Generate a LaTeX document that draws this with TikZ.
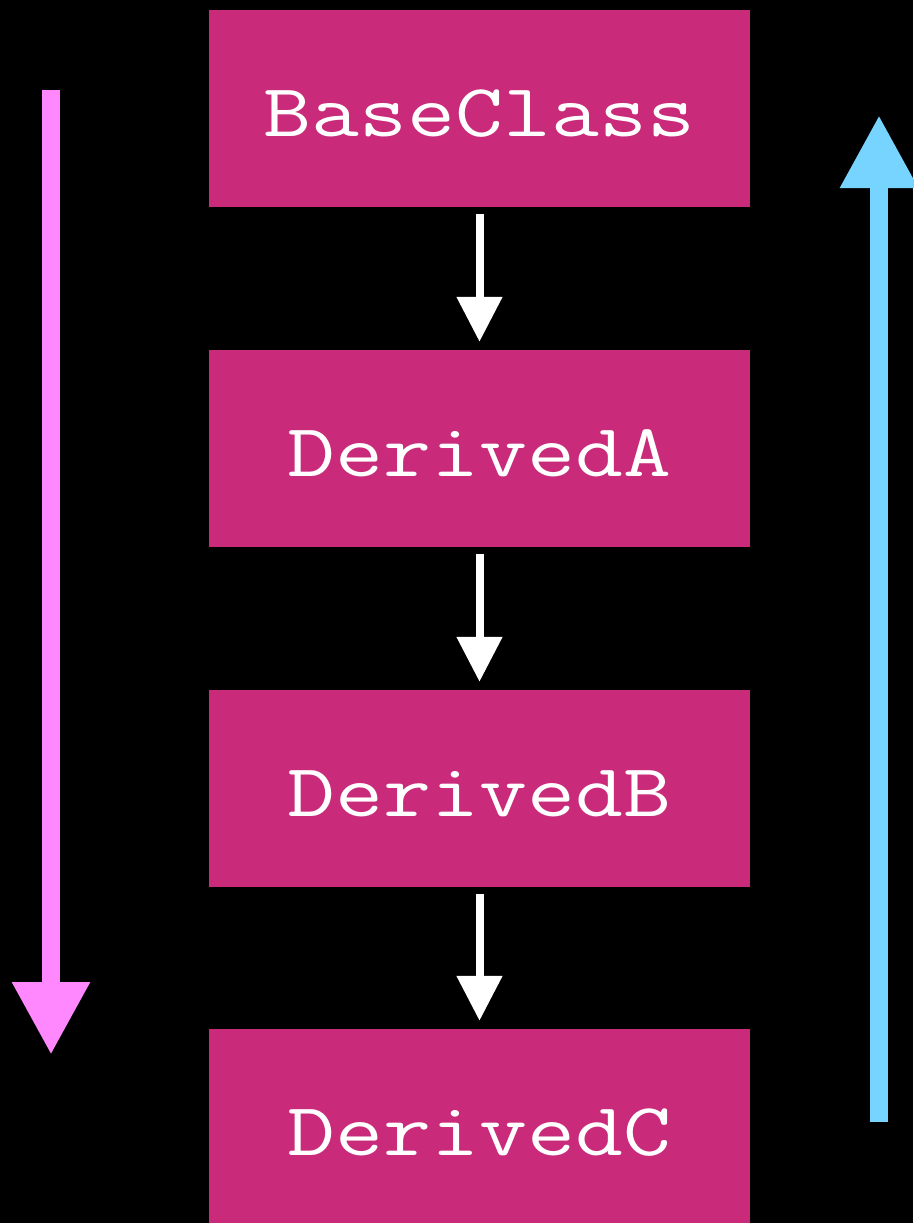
\documentclass[tikz,border=0pt]{standalone}
\usepackage{fontspec}
\newfontfamily\classfont{Latin Modern Mono}[FakeStretch=1.24]
\usetikzlibrary{arrows.meta}
\definecolor{boxpink}{RGB}{201,42,122}
\definecolor{leftpink}{RGB}{255,136,255}
\definecolor{rightblue}{RGB}{119,212,255}
\tikzset{
  classbox/.style={fill=boxpink, minimum width=541pt, minimum height=197pt, inner sep=0pt, text=white, text height=55pt, text depth=0pt, font=\classfont\fontsize{75}{85}\selectfont},
  inherit/.style={draw=white, line width=8pt, -{Triangle[width=44pt,length=45pt]}, shorten <=7pt, shorten >=8pt},
  bigarrow/.style={line width=18pt, -{Triangle[width=73pt,length=73pt]}}
}
\begin{document}
\begin{tikzpicture}[x=1pt,y=-1pt]
\useasboundingbox[fill=black] (0,0) rectangle (913,1223);
\node[classbox] (base) at (479.5,108.5) {BaseClass};
\node[classbox] (da) at (479.5,448.5) {DerivedA};
\node[classbox] (db) at (479.5,788.5) {DerivedB};
\node[classbox] (dc) at (479.5,1127.5) {DerivedC};
\draw[inherit] (base) -- (da);
\draw[inherit] (da) -- (db);
\draw[inherit] (db) -- (dc);
\coordinate (ltop) at (51,90);
\coordinate (lbot) at (51,1055);
\coordinate (rbot) at (879,1122);
\coordinate (rtop) at (879,115);
\draw[bigarrow, draw=leftpink, fill=leftpink] (ltop) -- (lbot);
\draw[bigarrow, draw=rightblue, fill=rightblue] (rbot) -- (rtop);
\end{tikzpicture}
\end{document}
